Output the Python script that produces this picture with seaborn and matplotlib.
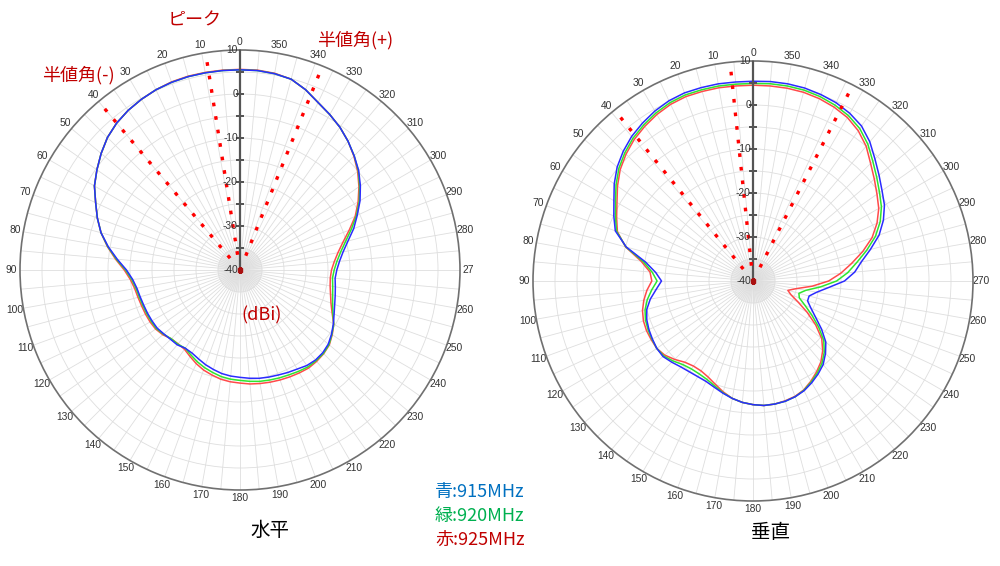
import numpy as np
import pandas as pd
import matplotlib
matplotlib.use("Agg")
import matplotlib.pyplot as plt
import seaborn as sns

# ---------------- data ----------------
angles_deg = list(range(0, 360, 5))
freqs = ["915MHz", "920MHz", "925MHz"]
ring_ticks = [-35, -30, -25, -20, -15, -10, -5, 0, 5]
r_labels = [10, 0, -10, -20, -30, -40]

H_915 = [5.5, 5.5, 5.5, 5.5, 5.4, 5.2, 4.8, 4.3, 3.6, 2.6, 1.2, -0.3,
         -1.8, -3.8, -5.5, -7.3, -9.6, -12.0, -14.2, -15.5, -16.2, -16.5, -16.7, -16.8,
         -16.9, -17.0, -17.4, -17.7, -17.8, -18.3, -18.2, -17.7, -17.1, -16.6, -16.1, -15.8,
         -15.6, -15.3, -15.0, -14.8, -14.6, -14.3, -14.0, -13.5, -13.3, -13.4, -13.8, -14.6,
         -15.5, -16.4, -17.1, -17.6, -18.0, -18.3, -18.0, -17.3, -16.2, -14.6, -12.5, -10.6,
         -8.5, -6.6, -4.8, -3.3, -1.8, -0.4, 0.8, 2.0, 3.6, 4.9, 5.3, 5.5]
H_920 = [5.5, 5.5, 5.5, 5.5, 5.4, 5.2, 4.8, 4.3, 3.6, 2.6, 1.2, -0.3,
         -1.8, -3.8, -5.5, -7.3, -9.5, -11.8, -14.0, -15.3, -16.0, -16.3, -16.5, -16.6,
         -16.7, -16.8, -17.3, -17.9, -18.0, -18.3, -17.7, -17.0, -16.4, -15.9, -15.4, -15.1,
         -14.9, -14.6, -14.3, -14.1, -13.9, -13.7, -13.4, -13.1, -13.1, -13.2, -13.6, -14.5,
         -15.4, -16.7, -17.6, -18.2, -18.6, -18.9, -18.6, -17.9, -16.8, -15.2, -13.1, -10.8,
         -8.7, -6.8, -4.9, -3.3, -1.8, -0.4, 0.8, 2.0, 3.6, 4.9, 5.3, 5.5]
H_925 = [5.6, 5.6, 5.6, 5.6, 5.5, 5.2, 4.8, 4.3, 3.6, 2.6, 1.2, -0.3,
         -1.8, -3.8, -5.5, -7.3, -9.4, -11.6, -13.7, -15.0, -15.7, -16.0, -16.2, -16.3,
         -16.4, -16.6, -17.1, -17.9, -18.1, -18.0, -17.3, -16.5, -15.8, -15.3, -14.8, -14.5,
         -14.3, -14.0, -13.8, -13.6, -13.4, -13.2, -13.0, -12.8, -12.9, -13.1, -13.5, -14.4,
         -15.4, -16.9, -18.0, -18.7, -19.2, -19.4, -19.2, -18.5, -17.4, -15.8, -13.6, -11.1,
         -9.0, -7.0, -5.1, -3.4, -1.8, -0.4, 0.8, 2.0, 3.6, 4.9, 5.4, 5.6]

V_915 = [5.4, 5.4, 5.5, 5.5, 5.5, 5.2, 4.6, 3.8, 2.9, 1.7, 0.3, -1.5,
         -3.5, -5.1, -6.7, -10.2, -15.2, -17.8, -19.2, -17.9, -16.3, -15.0, -14.3, -13.9,
         -13.6, -13.3, -13.3, -13.9, -14.5, -14.8, -14.9, -14.8, -14.3, -13.6, -12.9, -12.3,
         -11.9, -11.6, -11.6, -11.7, -12.0, -12.5, -13.3, -14.2, -15.2, -16.7, -18.4, -21.0,
         -23.6, -25.5, -26.8, -26.8, -25.3, -22.8, -19.2, -16.8, -15.0, -12.4, -9.5, -7.3,
         -5.5, -4.2, -2.6, -0.8, 1.3, 3.0, 4.0, 4.7, 5.1, 5.4, 5.5, 5.5]
V_920 = [4.9, 4.9, 5.0, 5.0, 5.0, 4.7, 4.1, 3.3, 2.4, 1.2, -0.2, -2.0,
         -3.9, -5.5, -7.0, -10.1, -14.7, -17.0, -18.2, -16.9, -15.6, -14.6, -14.0, -13.7,
         -13.5, -13.3, -13.5, -14.3, -15.2, -15.6, -15.6, -15.3, -14.6, -13.7, -12.9, -12.3,
         -11.9, -11.6, -11.6, -11.7, -12.0, -12.6, -13.5, -14.5, -15.6, -17.1, -19.0, -21.8,
         -24.6, -27.0, -28.8, -29.2, -27.8, -24.6, -21.0, -18.4, -16.1, -13.3, -10.4, -8.1,
         -6.3, -4.9, -3.3, -1.5, 0.6, 2.3, 3.4, 4.1, 4.6, 4.9, 5.0, 5.0]
V_925 = [4.5, 4.5, 4.6, 4.6, 4.6, 4.3, 3.7, 2.9, 2.0, 0.8, -0.6, -2.4,
         -4.3, -5.8, -7.2, -10.0, -14.2, -16.5, -17.0, -15.8, -14.8, -14.0, -13.5, -13.3,
         -13.3, -13.3, -13.8, -14.8, -15.9, -16.4, -16.4, -15.9, -15.0, -13.9, -12.9, -12.3,
         -11.9, -11.6, -11.6, -11.8, -12.1, -12.7, -13.7, -14.8, -16.0, -17.6, -19.6, -22.6,
         -25.8, -28.7, -30.8, -31.8, -30.0, -26.5, -22.8, -20.0, -17.3, -14.2, -11.2, -8.9,
         -7.0, -5.6, -4.0, -2.2, 0.0, 1.7, 2.9, 3.6, 4.1, 4.4, 4.5, 4.5]

H_marker_deg = [9, 40, 338]     # ピーク, 半値角(-), 半値角(+)
V_marker_deg = [6, 39, 333]

palette = {"915MHz": "#2b2bff", "920MHz": "#2ee62e", "925MHz": "#ff4a4a"}

# ---------------- style ----------------
sns.set_theme(style="white")
plt.rcParams["font.family"] = ["Noto Sans CJK JP", "DejaVu Sans"]

W, H = 1000, 566
fig = plt.figure(figsize=(W / 100, H / 100), dpi=100)


def px_box(cx, cy, rad):
    return [(cx - rad) / W, 1 - (cy + rad) / H, 2 * rad / W, 2 * rad / H]


def make_df(series):
    rows = []
    for f, vals in zip(freqs, series):
        th = np.deg2rad(np.append(angles_deg, 360))
        rr = np.append(vals, vals[0])
        for t, r in zip(th, rr):
            rows.append({"theta": t, "gain": r, "freq": f})
    return pd.DataFrame(rows)


def draw(ax, series, markers, label270):
    ax.set_theta_zero_location("N")
    ax.set_theta_direction(1)
    # fine spokes near the centre
    for d in range(0, 360, 1):
        ax.plot([np.deg2rad(d)] * 2, [-40, -35], color="#ececec", lw=0.3, zorder=0.5)
    df = make_df(series)
    sns.lineplot(data=df, x="theta", y="gain", hue="freq",
                 hue_order=["925MHz", "920MHz", "915MHz"], palette=palette,
                 sort=False, estimator=None, legend=False, linewidth=1.1, ax=ax)
    ax.set_xlabel("")
    ax.set_ylabel("")
    ax.set_ylim(-40, 10)
    ax.set_yticks(ring_ticks)
    ax.set_yticklabels([])
    ticks = list(range(0, 360, 5))
    labs = []
    for t in ticks:
        if t % 10:
            labs.append("")
        elif t == 270:
            labs.append(label270)
        else:
            labs.append(str(t))
    ax.set_xticks(np.deg2rad(ticks))
    ax.set_xticklabels(labs, fontsize=7.4, color="#333333", family="Liberation Sans")
    ax.tick_params(axis="x", pad=-7)
    ax.grid(True, color="#dedede", lw=0.6)
    ax.spines["polar"].set_color("#707070")
    ax.spines["polar"].set_linewidth(1.2)
    # radial axis line
    ax.plot([0, 0], [-40, 10], color="#555555", lw=1.6, zorder=3)
    ax.plot(np.zeros(len(ring_ticks)), ring_ticks, ls="none", marker="_",
            ms=6, mew=1.2, color="#555555", zorder=3)
    for v in r_labels:
        ax.annotate(str(v), xy=(0, v), xytext=(-1.5, 0), textcoords="offset points",
                    ha="right", va="center", fontsize=7.4, color="#333333",
                    family="Liberation Sans", zorder=5)
    ax.plot([0], [-40], marker="s", ms=3, color="#aa1111", zorder=6)
    # dotted marker lines
    for a in markers:
        ax.plot([np.deg2rad(a)] * 2, [-36.5, 10], color="#ff0000", lw=2.4,
                ls=(0, (1.1, 3.0)), zorder=4, clip_on=False)


axL = fig.add_axes(px_box(240, 270, 220), projection="polar")
draw(axL, [H_915, H_920, H_925], H_marker_deg, "27")
axR = fig.add_axes(px_box(753, 281, 220), projection="polar")
draw(axR, [V_915, V_920, V_925], V_marker_deg, "270")


def ftext(x, y, s, **kw):
    fig.text(x / W, 1 - y / H, s, **kw)


red = "#c00000"
ftext(195, 20, "ピーク", color=red, fontsize=13, ha="center", va="center")
ftext(78, 75, "半値角(-)", color=red, fontsize=13, ha="center", va="center")
ftext(355, 40, "半値角(+)", color=red, fontsize=13, ha="center", va="center")
ftext(262, 315, "(dBi)", color=red, fontsize=13, ha="center", va="center")
ftext(270, 530, "水平", color="black", fontsize=14, ha="center", va="center")
ftext(770, 533, "垂直", color="black", fontsize=14, ha="center", va="center")
ftext(435, 492, "青:915MHz", color="#0070c0", fontsize=13, ha="left", va="center")
ftext(435, 516, "緑:920MHz", color="#00b050", fontsize=13, ha="left", va="center")
ftext(435, 540, "赤:925MHz", color="#c00000", fontsize=13, ha="left", va="center")

fig.savefig("out.png", dpi=100, facecolor="white")
